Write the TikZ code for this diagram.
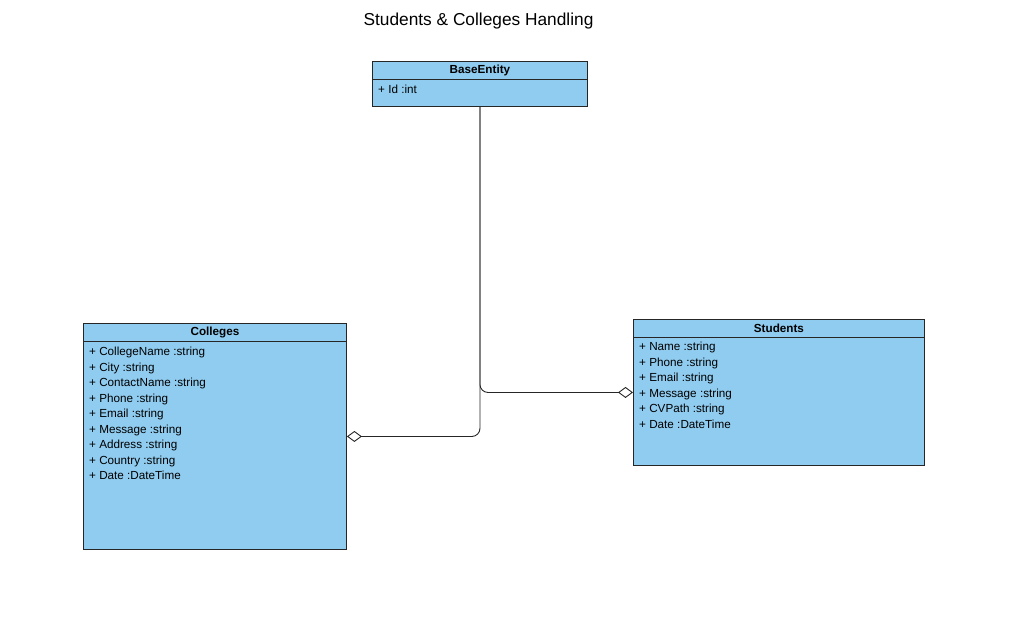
\documentclass[tikz,border=0pt]{standalone}
\usepackage{fontspec}
\setmainfont{Liberation Sans}
\usetikzlibrary{arrows.meta}
\definecolor{classfill}{RGB}{144,204,240}
\begin{document}
\begin{tikzpicture}[x=1pt,y=-1pt,
  classbox/.style={draw=black!85, fill=classfill, line width=0.9pt, anchor=north west, inner sep=0pt},
  headbox/.style={draw=black!85, line width=0.9pt, anchor=north west, inner sep=0pt, font=\fontsize{11.7pt}{13pt}\selectfont\bfseries},
  attrs/.style={anchor=north west, inner sep=0pt, align=left, font=\fontsize{11.7pt}{15.5pt}\selectfont},
  assoc/.style={line width=0.9pt, draw=black!85, rounded corners=8pt, -{Diamond[open,length=15pt,width=11pt]}}
]
\useasboundingbox (0,0) rectangle (1024,631);
\node[anchor=center, font=\fontsize{17.3pt}{20pt}\selectfont] (title) at (478.5,21) {Students \& Colleges Handling};

% BaseEntity
\node[classbox, minimum width=215pt, minimum height=45pt] (base) at (372,61) {};
\node[headbox, minimum width=215pt, minimum height=18pt] (basehead) at (372,61) {BaseEntity};
\node[attrs] (baseattr) at (378,85) {+ Id :int};

% Colleges
\node[classbox, minimum width=263pt, minimum height=226pt] (colleges) at (83,323) {};
\node[headbox, minimum width=263pt, minimum height=18pt] (collhead) at (83,323) {Colleges};
\node[attrs] (collattr) at (89,347.3) {+ CollegeName :string\\+ City :string\\+ ContactName :string\\+ Phone :string\\+ Email :string\\+ Message :string\\+ Address :string\\+ Country :string\\+ Date :DateTime};

% Students
\node[classbox, minimum width=291pt, minimum height=146pt] (students) at (633,319) {};
\node[headbox, minimum width=291pt, minimum height=18pt] (studhead) at (633,319) {Students};
\node[attrs] (studattr) at (639,342.2) {+ Name :string\\+ Phone :string\\+ Email :string\\+ Message :string\\+ CVPath :string\\+ Date :DateTime};

% connectors
\draw[assoc] (base.south) |- (colleges.east);
\draw[assoc] (base.south) |- (students.west);
\end{tikzpicture}
\end{document}
